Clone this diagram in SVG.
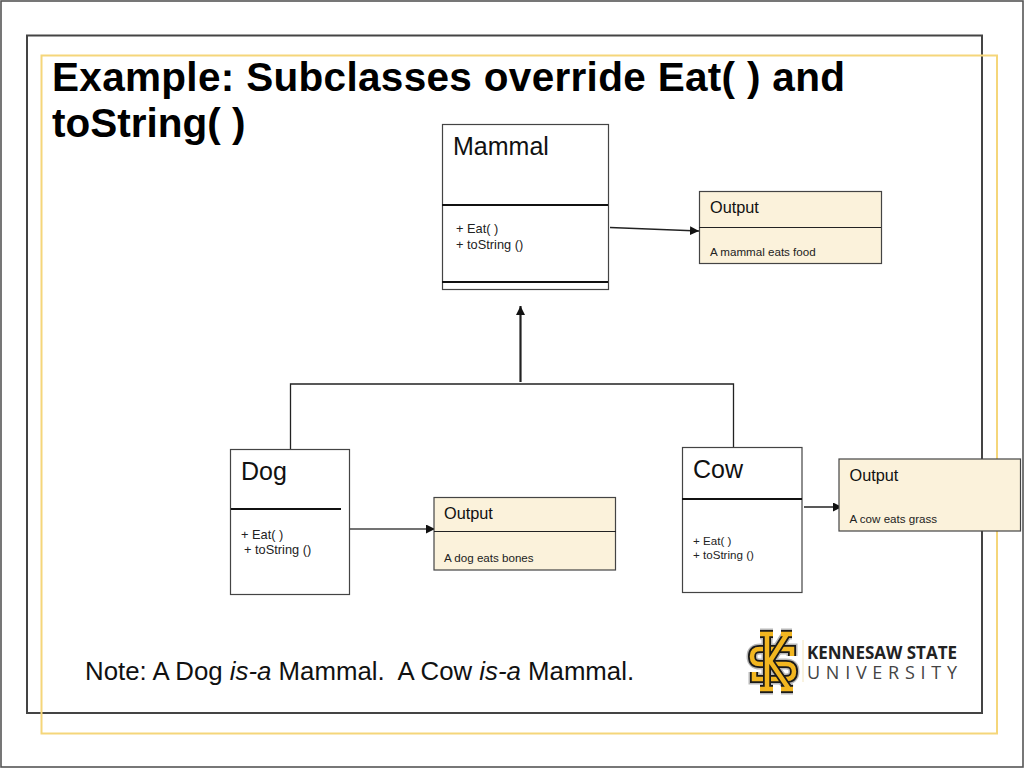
<svg xmlns="http://www.w3.org/2000/svg" width="1024" height="768" viewBox="0 0 1024 768">
<style>
text{font-family:"Liberation Sans",Arial,sans-serif;fill:#111}
.box{fill:#fff;stroke:#444;stroke-width:1.2}
.out{fill:#fbf2db;stroke:#444;stroke-width:1.2}
.div{stroke:#111;stroke-width:2;fill:none}
.thin{stroke:#222;stroke-width:1.2;fill:none}
.con{stroke:#222;stroke-width:1.3;fill:none}
.name{font-size:25px}
.m{font-size:12.800px;fill:#222}
.oh{font-size:16.300px}
.ob{font-size:11.600px;fill:#222}
.lg{fill:none;stroke:#b8b8b8;stroke-width:11}
.lb{fill:none;stroke:#1a1a1a;stroke-width:8}
.ly{fill:none;stroke:#f2b620;stroke-width:4.500}
</style>
<defs>
<marker id="arr" markerUnits="userSpaceOnUse" markerWidth="10" markerHeight="10" refX="9" refY="4.5" orient="auto"><path d="M0 0L9 4.5L0 9Z" fill="#111"/></marker>
<path id="s" d="M792 656V649H760Q752 649 752 656.500Q752 664 760 664H786Q794 664 794 671.500Q794 679 786 679H754V672"/>
<path id="k" d="M760 634H773M767 634V689M760 689H773M781 634H792M787 634L770 661L789 689M781 689H793"/>
</defs>
<rect width="1024" height="768" fill="#fff"/>
<g id="frame" fill="none">
<rect x="1" y="1" width="1022" height="766" stroke="#555" stroke-width="1.6"/>
<rect x="27" y="35.500" width="955" height="677.500" stroke="#444" stroke-width="2"/>
<rect x="41.500" y="55.500" width="955.500" height="678" stroke="#f5d67a" stroke-width="2"/>
</g>
<g id="title"><text x="52" y="91" font-size="40.500" font-weight="700" textLength="793" style="fill:#000">Example: Subclasses override Eat( ) and</text><text x="52" y="137" font-size="40.500" font-weight="700" style="fill:#000">toString( )</text></g>
<g id="connectors">
<path class="con" d="M610 227.500L699 231" marker-end="url(#arr)"/>
<path d="M520.500 382V306" stroke="#222" stroke-width="2.200" fill="none" marker-end="url(#arr)"/>
<path class="con" d="M290.500 449V384H733.500V448"/>
<path d="M350 529H435" stroke="#444" stroke-width="1.500" fill="none" marker-end="url(#arr)"/>
<path class="con" d="M804 507H842" marker-end="url(#arr)"/>
</g>
<g id="mammal"><rect class="box" x="442.500" y="124.500" width="166" height="165"/><path class="div" d="M442 205H608M442 282H608"/><text class="name" x="453" y="155">Mammal</text><text class="m" x="456" y="233">+ Eat( )</text><text class="m" x="456" y="249">+ toString ()</text></g>
<g id="output-mammal"><rect class="out" x="699.500" y="191.500" width="182" height="72"/><path class="thin" d="M699 227.500H881"/><text class="oh" x="710" y="213">Output</text><text class="ob" x="710" y="256">A mammal eats food</text></g>
<g id="dog"><rect class="box" x="230.500" y="449.500" width="119" height="145"/><path class="div" d="M231 509H341"/><text class="name" x="241" y="480">Dog</text><text class="m" x="241" y="539">+ Eat( )</text><text class="m" x="244" y="554">+ toString ()</text></g>
<g id="output-dog"><rect class="out" x="434" y="497.500" width="181.500" height="72.500"/><path class="thin" d="M434 531.500H616"/><text class="oh" x="444" y="519">Output</text><text class="ob" x="444" y="562">A dog eats bones</text></g>
<g id="cow"><rect class="box" x="682.500" y="447.500" width="119.500" height="145"/><path class="div" d="M682 499H802"/><text class="name" x="693" y="478">Cow</text><text class="m" x="693" y="545" style="font-size:11.600px">+ Eat( )</text><text class="m" x="693" y="559" style="font-size:11.600px">+ toString ()</text></g>
<g id="output-cow"><rect class="out" x="839" y="459" width="181.500" height="72"/><text class="oh" x="849.500" y="481">Output</text><text class="ob" x="849.500" y="523">A cow eats grass</text></g>
<g id="note"><text x="85" y="680" font-size="25.800" xml:space="preserve">Note: A Dog <tspan font-style="italic">is-a</tspan> Mammal.  A Cow <tspan font-style="italic">is-a</tspan> Mammal.</text></g>
<g id="logo">
<use href="#s" class="lg"/><use href="#k" class="lg"/>
<use href="#s" class="lb"/><use href="#s" class="ly"/>
<use href="#k" class="lb"/><use href="#k" class="ly"/>
<path d="M803 640V682" stroke="#f3e6c0" stroke-width="1" fill="none"/>
<text x="807" y="659" font-size="18.500" font-weight="700" textLength="150" lengthAdjust="spacingAndGlyphs" style="font-family:'Open Sans',sans-serif;fill:#222">KENNESAW STATE</text>
<text x="807" y="679" font-size="18" textLength="150" style="font-family:'Open Sans',sans-serif;fill:#444">UNIVERSITY</text>
</g>
</svg>
